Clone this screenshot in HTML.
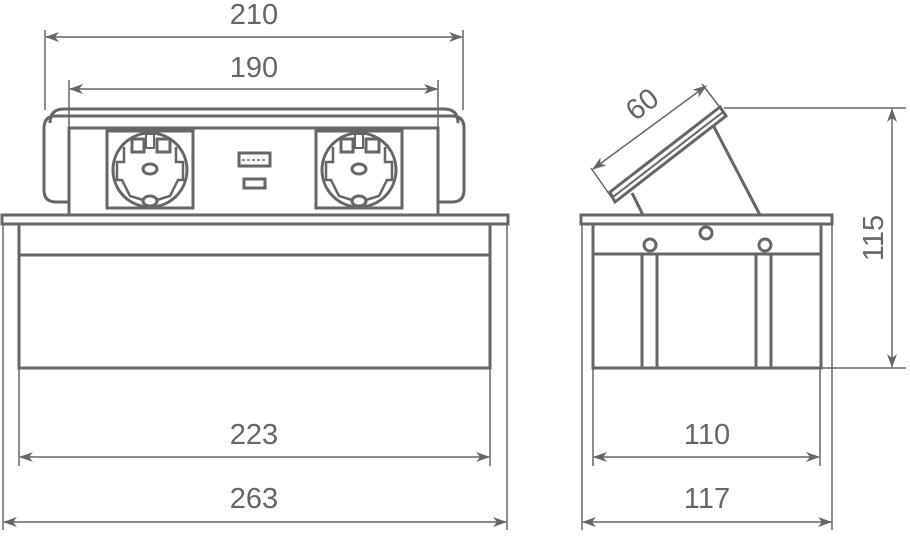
<!DOCTYPE html>
<html><head><style>html,body{margin:0;padding:0;background:#fff}svg{display:block}</style></head><body>
<svg width="910" height="544" viewBox="0 0 910 544" xmlns="http://www.w3.org/2000/svg">
<defs>
<marker id="a" viewBox="0 0 14 10" refX="13" refY="5" markerWidth="14" markerHeight="10" markerUnits="userSpaceOnUse" orient="auto-start-reverse"><path d="M0,0 L14,5 L0,10 L4,5 Z" fill="#666"/></marker>
<g id="sock">
<rect x="107" y="131" width="86" height="77" fill="none" stroke="#666" stroke-width="3"/>
<circle cx="150" cy="170" r="37" fill="none" stroke="#666" stroke-width="3"/>
<path d="M124,147 L124,162 L117,162 L117,180 L122,180 L130,196 L143,200 M176,147 L176,162 L183,162 L183,180 L178,180 L170,196 L157,200" fill="none" stroke="#666" stroke-width="2.5"/>
<rect x="132" y="139" width="12" height="13" fill="none" stroke="#666" stroke-width="3"/>
<rect x="157" y="139" width="13" height="13" fill="none" stroke="#666" stroke-width="3"/>
<rect x="146" y="134" width="8" height="14" fill="#fff" stroke="#666" stroke-width="2"/>
<ellipse cx="150" cy="169" rx="7" ry="5" fill="none" stroke="#666" stroke-width="3"/>
<ellipse cx="150" cy="201" rx="7" ry="5" fill="#fff" stroke="#666" stroke-width="3"/>
</g>
</defs>
<g fill="none" stroke="#666">
<!-- left view dims -->
<g stroke-width="1.5">
<line x1="45" y1="30" x2="45" y2="110"/><line x1="463" y1="30" x2="463" y2="110"/>
<line x1="46" y1="37" x2="462" y2="37" marker-start="url(#a)" marker-end="url(#a)"/>
<line x1="69" y1="80" x2="69" y2="128"/><line x1="438" y1="80" x2="438" y2="128"/>
<line x1="70" y1="89" x2="437" y2="89" marker-start="url(#a)" marker-end="url(#a)"/>
<line x1="3" y1="224" x2="3" y2="530"/><line x1="507" y1="224" x2="507" y2="530"/>
<line x1="19" y1="368" x2="19" y2="466"/><line x1="490" y1="368" x2="490" y2="466"/>
<line x1="20" y1="457" x2="489" y2="457" marker-start="url(#a)" marker-end="url(#a)"/>
<line x1="4" y1="522" x2="506" y2="522" marker-start="url(#a)" marker-end="url(#a)"/>
</g>
<!-- left view object -->
<g stroke-width="3">
<path d="M50,123 Q50,109 64,109 L444,109 Q458,109 458,123"/>
<path d="M69,202 L56,202 Q44,202 44,190 L44,128 Q44,116 56,116 L452,116 Q464,116 464,128 L464,190 Q464,202 452,202 L439,202"/>
<rect x="69" y="128" width="369" height="87" fill="#fff"/>
<rect x="2" y="215" width="506" height="9" fill="#fff"/>
<rect x="19" y="224" width="471" height="144"/>
<line x1="19" y1="255" x2="490" y2="255"/>
<rect x="239" y="153" width="31" height="13"/>
<rect x="244" y="179" width="21" height="9"/>
</g>
<line x1="242" y1="160" x2="267" y2="160" stroke-width="1.5" stroke-dasharray="3,2"/>
<use href="#sock"/>
<use href="#sock" x="209"/>
<!-- right view -->
<g stroke-width="1.5">
<line x1="582" y1="224" x2="582" y2="530"/><line x1="832" y1="224" x2="832" y2="530"/>
<line x1="593" y1="368" x2="593" y2="466"/><line x1="820" y1="368" x2="820" y2="466"/>
<line x1="594" y1="457" x2="819" y2="457" marker-start="url(#a)" marker-end="url(#a)"/>
<line x1="583" y1="522" x2="831" y2="522" marker-start="url(#a)" marker-end="url(#a)"/>
<line x1="724" y1="108" x2="906" y2="108"/><line x1="822" y1="368" x2="906" y2="368"/>
<line x1="892" y1="109" x2="892" y2="367" marker-start="url(#a)" marker-end="url(#a)"/>
<line x1="591" y1="168" x2="614" y2="201"/><line x1="702" y1="84" x2="722" y2="110"/>
<line x1="593" y1="169" x2="706" y2="86" marker-start="url(#a)" marker-end="url(#a)"/>
</g>
<g stroke-width="3">
<line x1="632" y1="193" x2="643" y2="215"/>
<line x1="713" y1="125" x2="760" y2="215"/>
<polygon points="610,192 720,107 726,116 615,202" fill="#fff"/>
<line x1="613" y1="197" x2="723" y2="112" stroke-width="2"/>
<rect x="581" y="215" width="251" height="9" fill="#fff"/>
<rect x="593" y="224" width="228" height="144"/>
<line x1="593" y1="254" x2="821" y2="254"/>
<rect x="642" y="254" width="15" height="114"/>
<rect x="756" y="254" width="15" height="114"/>
<circle cx="650" cy="245" r="6" fill="#fff"/>
<circle cx="706" cy="233" r="6"/>
<circle cx="765" cy="245" r="6" fill="#fff"/>
</g>
</g>
<g fill="#666" font-family="Liberation Sans, sans-serif" font-size="29" text-anchor="middle">
<text x="254" y="24">210</text>
<text x="254" y="77">190</text>
<text x="254" y="444">223</text>
<text x="254" y="508">263</text>
<text x="707" y="444">110</text>
<text x="707" y="508">117</text>
<text transform="translate(648,112) rotate(-37)">60</text>
<text transform="translate(883,238) rotate(-90)">115</text>
</g>
</svg>
</body></html>
